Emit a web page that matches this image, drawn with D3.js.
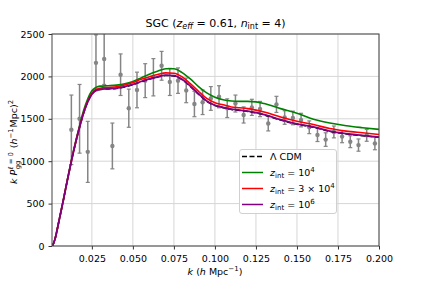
<!DOCTYPE html>
<html><head><meta charset="utf-8">
<script src="https://cdn.jsdelivr.net/npm/d3@7"></script>
<style>body{margin:0;background:#fff}svg{display:block;font-family:"DejaVu Sans",sans-serif}</style>
</head><body><svg id="c" width="421" height="281"></svg>
<script>
// measured data points
const dataK = [0.0125,0.0175,0.0225,0.0275,0.0325,0.0375,0.0425,0.0475,0.0525,0.0575,0.0625,0.0675,0.0725,0.0775,0.0825,0.0875,0.0925,0.0975,0.1025,0.1075,0.1125,0.1175,0.1225,0.1275,0.1325,0.1375,0.1425,0.1475,0.1525,0.1575,0.1625,0.1675,0.1725,0.1775,0.1825,0.1875,0.1925,0.1975];
const dataP = [1370,1500,1110,2160,2205,1180,2020,1625,1840,1950,1990,2125,1935,1950,1835,1675,1695,1740,1760,1625,1680,1545,1635,1615,1445,1670,1515,1510,1485,1400,1310,1255,1345,1290,1230,1190,1305,1210];
const dataErr = [410,405,360,330,300,270,245,225,210,200,220,170,160,150,145,150,145,140,130,110,100,95,95,90,88,95,80,80,80,75,78,80,70,72,70,72,70,75];

// model curves
const curveK = [0.001,0.0025,0.005,0.0075,0.01,0.0125,0.015,0.0175,0.02,0.0225,0.025,0.0275,0.03,0.035,0.04,0.045,0.05,0.055,0.06,0.065,0.07,0.075,0.08,0.085,0.09,0.095,0.1,0.105,0.11,0.115,0.12,0.125,0.13,0.14,0.15,0.16,0.17,0.18,0.19,0.2];
const lcdmP = [0,80,300,530,770,1000,1210,1400,1570,1700,1790,1834,1846,1852,1858,1876,1901,1936,1966,1991,2011,2006,1961,1881,1791,1706,1656,1631,1611,1599,1586,1569,1546,1486,1436,1401,1351,1321,1301,1281];
const green1e4P = [0,80,300,530,775,1010,1225,1420,1600,1735,1830,1870,1885,1890,1897,1912,1940,1982,2025,2060,2090,2090,2045,1970,1880,1805,1755,1725,1710,1705,1705,1700,1680,1620,1565,1495,1450,1418,1395,1375];
const red3e4P = [0,80,300,530,770,1000,1212,1403,1575,1708,1800,1848,1860,1870,1878,1898,1927,1965,1995,2022,2042,2038,1995,1915,1825,1740,1690,1665,1640,1630,1620,1602,1580,1520,1470,1432,1385,1355,1335,1315];
const purple1e6P = [0,80,300,530,770,1000,1210,1400,1570,1700,1790,1835,1848,1855,1862,1880,1905,1940,1970,1995,2015,2010,1965,1885,1795,1710,1660,1635,1615,1603,1590,1573,1550,1490,1440,1405,1355,1325,1305,1285];

const xTicks = [0.025,0.050,0.075,0.100,0.125,0.150,0.175,0.200];
const yTicks = [0,500,1000,1500,2000,2500];

const svg = d3.select("#c");
const L=52,R=379,T=34,B=246;
const x = d3.scaleLinear().domain([0.0007,0.2]).range([L,R]);
const y = d3.scaleLinear().domain([0,2500]).range([B,T]);

svg.append("defs").append("clipPath").attr("id","clip")
  .append("rect").attr("x",L).attr("y",T).attr("width",R-L).attr("height",B-T);

// grid
const grid = svg.append("g");
grid.selectAll(".gx").data(xTicks).join("line")
  .attr("x1",d=>x(d)).attr("x2",d=>x(d)).attr("y1",T).attr("y2",B)
  .attr("stroke","#d6d6d6").attr("stroke-width",1);
grid.selectAll(".gy").data(yTicks).join("line")
  .attr("y1",d=>y(d)).attr("y2",d=>y(d)).attr("x1",L).attr("x2",R)
  .attr("stroke","#d6d6d6").attr("stroke-width",1);

// data with error bars
const pts = svg.append("g").attr("clip-path","url(#clip)");
const data = dataK.map((k,i)=>({k, p:dataP[i], e:dataErr[i]}));
const gray="#858585";
pts.selectAll(".eb").data(data).join("line")
  .attr("x1",d=>x(d.k)).attr("x2",d=>x(d.k))
  .attr("y1",d=>y(d.p-d.e)).attr("y2",d=>y(d.p+d.e))
  .attr("stroke",gray).attr("stroke-width",1.5);
["lo","hi"].forEach(s=>{
  pts.selectAll(".cap"+s).data(data).join("line")
    .attr("x1",d=>x(d.k)-2).attr("x2",d=>x(d.k)+2)
    .attr("y1",d=>y(s==="lo"?d.p-d.e:d.p+d.e)).attr("y2",d=>y(s==="lo"?d.p-d.e:d.p+d.e))
    .attr("stroke",gray).attr("stroke-width",1.2);
});
pts.selectAll(".pt").data(data).join("circle")
  .attr("cx",d=>x(d.k)).attr("cy",d=>y(d.p)).attr("r",2.2).attr("fill",gray);

// curves
const line = d3.line().x(d=>x(d[0])).y(d=>y(d[1])).curve(d3.curveMonotoneX);
const curves = svg.append("g").attr("clip-path","url(#clip)");
const series = [
  {v:lcdmP, c:"#000", dash:"5,2.5", w:1.5},
  {v:green1e4P, c:"#008000", w:1.6},
  {v:red3e4P, c:"#ff0000", w:1.6},
  {v:purple1e6P, c:"#800080", w:1.8}
];
series.forEach(s=>{
  curves.append("path").datum(curveK.map((k,i)=>[k,s.v[i]]))
    .attr("d",line).attr("fill","none").attr("stroke",s.c)
    .attr("stroke-width",s.w).attr("stroke-dasharray",s.dash||null);
});

// axes
const xa = svg.append("g").attr("transform",`translate(0,${B})`)
  .call(d3.axisBottom(x).tickValues(xTicks).tickFormat(d3.format(".3f")).tickSize(3.5).tickSizeOuter(0));
const ya = svg.append("g").attr("transform",`translate(${L},0)`)
  .call(d3.axisLeft(y).tickValues(yTicks).tickFormat(d3.format("d")).tickSize(3.5).tickSizeOuter(0));
[xa,ya].forEach(a=>{
  a.select(".domain").remove();
  a.selectAll("text").attr("font-family","DejaVu Sans").attr("font-size","9.5px").attr("fill","#000");
  a.selectAll("line").attr("stroke","#333");
});
xa.selectAll("text").attr("dy","1.05em");
ya.selectAll("text").attr("dx","-0.1em");

// frame
svg.append("rect").attr("x",L).attr("y",T).attr("width",R-L).attr("height",B-T)
  .attr("fill","none").attr("stroke","#444").attr("stroke-width",1);

// title
const title = svg.append("text").attr("x",215.5).attr("y",27).attr("text-anchor","middle")
  .attr("font-size","11px").attr("fill","#000");
title.append("tspan").text("SGC (");
title.append("tspan").attr("font-style","italic").text("z");
title.append("tspan").attr("font-style","italic").attr("font-size","8px").attr("dy","2").text("eff");
title.append("tspan").attr("dy","-2").text(" = 0.61, ");
title.append("tspan").attr("font-style","italic").text("n");
title.append("tspan").attr("font-size","8px").attr("dy","2").text("int");
title.append("tspan").attr("dy","-2").text(" = 4)");

// x label
const xl = svg.append("text").attr("x",215).attr("y",275).attr("text-anchor","middle")
  .attr("font-size","9.5px").attr("fill","#000");
xl.append("tspan").attr("font-style","italic").text("k");
xl.append("tspan").text(" (");
xl.append("tspan").attr("font-style","italic").text("h");
xl.append("tspan").text(" Mpc");
xl.append("tspan").attr("font-size","7px").attr("dy","-4").text("−1");
xl.append("tspan").attr("dy","4").text(")");

// y label (built piece by piece, then centred)
const yg = svg.append("g").attr("transform","translate(17,142) rotate(-90)");
const yInner = yg.append("g");
let cx = 0;
function piece(txt, opts={}){
  const t = yInner.append("text").attr("x",cx).attr("y",opts.dy||0)
    .attr("font-size",(opts.fs||9.5)+"px").attr("fill","#000").text(txt);
  if(opts.it) t.attr("font-style","italic");
  const w = t.node().getComputedTextLength();
  if(!opts.noadv) cx += w;
  return w;
}
piece("k", {it:1});
cx += 3;
piece("P", {it:1});
cx += 0.5;
const supW = piece("ℓ = 0", {fs:6.8, dy:-4.5, noadv:1});
const subW = piece("gg", {fs:6.8, dy:3.2, noadv:1});
cx += Math.max(supW, subW) + 4;
piece("(");
piece("h", {it:1});
piece("−1", {fs:6.8, dy:-4});
cx += 1;
piece("Mpc)");
piece("2", {fs:6.8, dy:-4});
yInner.attr("transform",`translate(${-cx/2},0)`);

// legend
const lg = svg.append("g");
lg.append("rect").attr("x",239.5).attr("y",149.5).attr("width",97).attr("height",64).attr("rx",2.5)
  .attr("fill","#fff").attr("fill-opacity",0.85).attr("stroke","#d0d0d0").attr("stroke-width",1);
const legendLabels = [
  [{t:"Λ CDM"}],
  [{t:"z",i:1},{t:"int",s:1},{t:" = 10",b:1},{t:"4",p:1}],
  [{t:"z",i:1},{t:"int",s:1},{t:" = 3 × 10",b:1},{t:"4",p:1}],
  [{t:"z",i:1},{t:"int",s:1},{t:" = 10",b:1},{t:"6",p:1}]
];
series.forEach((s,i)=>{
  const yy = 156.5 + i*16;
  lg.append("line").attr("x1",242).attr("x2",263).attr("y1",yy).attr("y2",yy)
    .attr("stroke",s.c).attr("stroke-width",1.5).attr("stroke-dasharray",s.dash||null);
  const t = lg.append("text").attr("x",270).attr("y",yy+3.5).attr("font-size","9.5px").attr("fill","#000");
  legendLabels[i].forEach(p=>{
    const ts = t.append("tspan").text(p.t);
    if(p.i) ts.attr("font-style","italic");
    if(p.s) ts.attr("font-size","7px").attr("dy","2");
    if(p.b) ts.attr("dy","-2");
    if(p.p) ts.attr("font-size","7px").attr("dy","-4");
  });
});
</script></body></html>
